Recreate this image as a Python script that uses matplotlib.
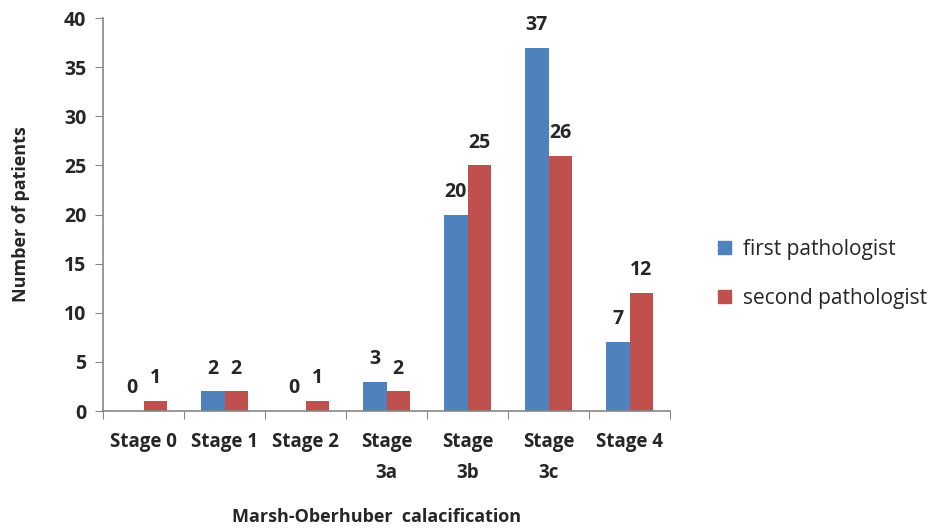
import matplotlib
matplotlib.use("Agg")
import matplotlib.pyplot as plt
import numpy as np
from matplotlib.patches import Patch

categories = ["Stage 0", "Stage 1", "Stage 2", "Stage\n3a", "Stage\n3b", "Stage\n3c", "Stage 4"]
first = [0, 2, 0, 3, 20, 37, 7]
second = [1, 2, 1, 2, 25, 26, 12]
series_names = ["first pathologist", "second pathologist"]
yticks = [0, 5, 10, 15, 20, 25, 30, 35, 40]

blue = "#4F81BD"
red = "#C0504D"
txt = "#262626"
fam = ["Open Sans", "DejaVu Sans"]

fig = plt.figure(figsize=(9.45, 5.32), dpi=100)
ax = fig.add_axes([0.109, 0.2274, 0.6, 0.7386])

x = np.arange(len(categories))
w = 0.2857
b1 = ax.bar(x - w/2, first, w, color=blue)
b2 = ax.bar(x + w/2, second, w, color=red)

for bars, vals in ((b1, first), (b2, second)):
    for r, v in zip(bars, vals):
        ax.text(r.get_x() + r.get_width()/2, v + 1.3, str(v), ha="center", va="bottom",
                fontsize=14, fontweight="bold", color=txt, family=fam)

ax.set_xlim(-0.5, len(categories) - 0.5)
ax.set_ylim(0, 40)
ax.set_yticks(yticks)
ax.set_yticklabels([str(t) for t in yticks], fontsize=14, fontweight="bold", color=txt, family=fam)

ax.set_xticks(np.arange(len(categories) + 1) - 0.5)
ax.set_xticklabels([])
ax.set_xticks(x, minor=True)
ax.set_xticklabels(categories, minor=True, fontsize=13.5, fontweight="bold", color=txt,
                   family=fam, va="top", linespacing=1.75)
ax.tick_params(axis="x", which="minor", length=0, pad=15)
ax.tick_params(axis="x", which="major", length=6, color="#868686", direction="out")
ax.tick_params(axis="y", length=6, color="#868686", direction="out", pad=6)

for s in ("top", "right"):
    ax.spines[s].set_visible(False)
for s in ("left", "bottom"):
    ax.spines[s].set_color("#868686")
    ax.spines[s].set_linewidth(1.2)

ax.set_ylabel("Number of patients", fontsize=13, fontweight="bold", color=txt, family=fam)
ax.yaxis.set_label_coords(-0.128, 0.5)
fig.text(0.103 + 0.6/2 - 0.005, 0.018, "Marsh-Oberhuber  calacification", ha="center",
         fontsize=13, color=txt, family=fam, fontweight="bold")

handles = [Patch(color=blue), Patch(color=red)]
leg = fig.legend(handles, series_names, loc="center left", bbox_to_anchor=(0.74, 0.485),
                 frameon=False, handlelength=0.6, handleheight=0.6, handletextpad=0.6,
                 labelspacing=1.35, prop={"family": fam, "size": 15})
for t in leg.get_texts():
    t.set_color(txt)

fig.savefig("out.png", dpi=100)
